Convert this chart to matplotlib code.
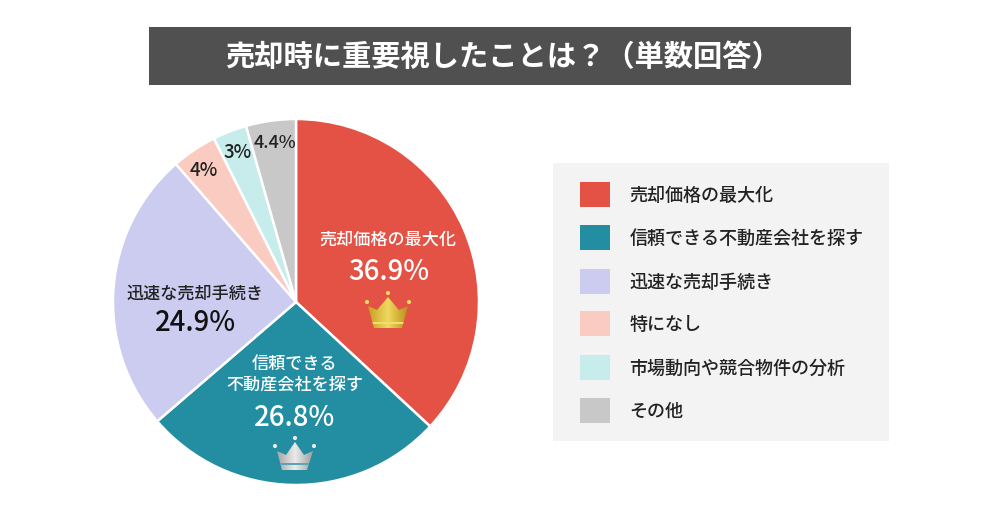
import numpy as np
import matplotlib
matplotlib.use('Agg')
import matplotlib.pyplot as plt
from matplotlib.patches import Polygon, Rectangle, Circle

plt.rcParams['font.family'] = ['Noto Sans CJK JP', 'DejaVu Sans']

TITLE = '売却時に重要視したことは？（単数回答）'
CATEGORIES = ['売却価格の最大化', '信頼できる不動産会社を探す', '迅速な売却手続き',
              '特になし', '市場動向や競合物件の分析', 'その他']
VALUES = [36.9, 26.8, 24.9, 4, 3, 4.4]
VALUE_LABELS = ['36.9%', '26.8%', '24.9%', '4%', '3%', '4.4%']
COLORS = ['#e35244', '#238ea2', '#cccbf0', '#facbc1', '#c6ecec', '#c8c8c8']

W, H = 1000, 513


def Y(y):
    # pixel row in the picture -> data y
    return H - y


def crown(ax, pts, band, dots, stops):
    """Crown drawn as a gradient clipped to a polygon."""
    pts = [(x, Y(y)) for x, y in pts]
    xs = [p[0] for p in pts]
    ys = [p[1] for p in pts]
    grad = matplotlib.colors.LinearSegmentedColormap.from_list('c', stops)
    im = ax.imshow(np.linspace(0, 1, 64).reshape(1, -1), cmap=grad, aspect='auto',
                   extent=(min(xs), max(xs), min(ys), max(ys)), zorder=4)
    poly = Polygon(pts, closed=True, fc='none', ec='none', zorder=4)
    ax.add_patch(poly)
    im.set_clip_path(poly)
    ax.add_patch(Rectangle((min(xs), Y(band[1])), max(xs) - min(xs), band[1] - band[0],
                           fc=band[2], ec='none', zorder=5, clip_path=poly))
    for x, y in dots:
        ax.add_patch(Circle((x, Y(y)), 2.1, fc=stops[1], ec='none', zorder=5))


fig = plt.figure(figsize=(W / 100, H / 100), dpi=100)
ax = fig.add_axes([0, 0, 1, 1])

ax.pie(VALUES, colors=COLORS, startangle=90, counterclock=False, radius=183,
       center=(296, Y(302)), frame=True,
       wedgeprops={'edgecolor': 'white', 'linewidth': 1.8})
ax.set_xlim(0, W)
ax.set_ylim(0, H)
ax.axis('off')

# title bar
ax.add_patch(Rectangle((149, Y(85)), 702, 58, fc='#505050', ec='none'))
ax.text(502.5, Y(57), TITLE, color='white', fontsize=21.1, fontweight='bold',
        ha='center', va='center')

# labels inside the slices
ax.text(388, Y(239.5), CATEGORIES[0], color='white', fontsize=12.3, fontweight='medium', ha='center', va='center')
ax.text(388.5, Y(271), VALUE_LABELS[0], color='white', fontsize=19.8, fontweight='medium', ha='center', va='center')
ax.text(295, Y(363.5), '信頼できる', color='white', fontsize=12.3, fontweight='medium', ha='center', va='center')
ax.text(295, Y(384.5), '不動産会社を探す', color='white', fontsize=12.3, fontweight='medium', ha='center', va='center')
ax.text(295, Y(418), VALUE_LABELS[1], color='white', fontsize=19.8, fontweight='medium', ha='center', va='center')
ax.text(195, Y(293.5), CATEGORIES[2], color='#222222', fontsize=12.3, fontweight='medium', ha='center', va='center')
ax.text(195, Y(322.5), VALUE_LABELS[2], color='#111111', fontsize=19.8, fontweight='medium', ha='center', va='center')
ax.text(204, Y(170), VALUE_LABELS[3], color='#222222', fontsize=13.5, fontweight='medium', ha='center', va='center')
ax.text(238, Y(153), VALUE_LABELS[4], color='#222222', fontsize=13.5, fontweight='medium', ha='center', va='center')
ax.text(274.5, Y(143), VALUE_LABELS[5], color='#222222', fontsize=13, fontweight='medium', ha='center', va='center')

# crowns
crown(ax, [(368, 306), (377, 310), (388, 297), (399, 310), (408, 306), (402, 328), (374, 328)],
      (322, 324, '#f2dc70'), [(388, 293), (367, 302), (409, 302)],
      ['#c9a022', '#f0d860', '#b98f1a'])
crown(ax, [(277, 451), (286, 455), (295, 442), (304, 455), (313, 451), (307, 470), (282, 470)],
      (463, 465, '#5ba5b5'), [(295, 438), (275, 446), (314, 446)],
      ['#a5a5a5', '#ebebeb', '#a0a0a0'])

# legend
ax.add_patch(Rectangle((553, Y(441)), 336, 278, fc='#f3f3f3', ec='none'))
ROWS = [194, 237, 281, 323, 367, 410]
for name, color, row in zip(CATEGORIES, COLORS, ROWS):
    ax.add_patch(Rectangle((580, Y(row + 12.5)), 30, 25, fc=color, ec='none'))
    ax.text(629.5, Y(row + 2), name, color='#222222', fontsize=13, fontweight='medium',
            ha='left', va='center')

fig.savefig('out.png', dpi=100)
